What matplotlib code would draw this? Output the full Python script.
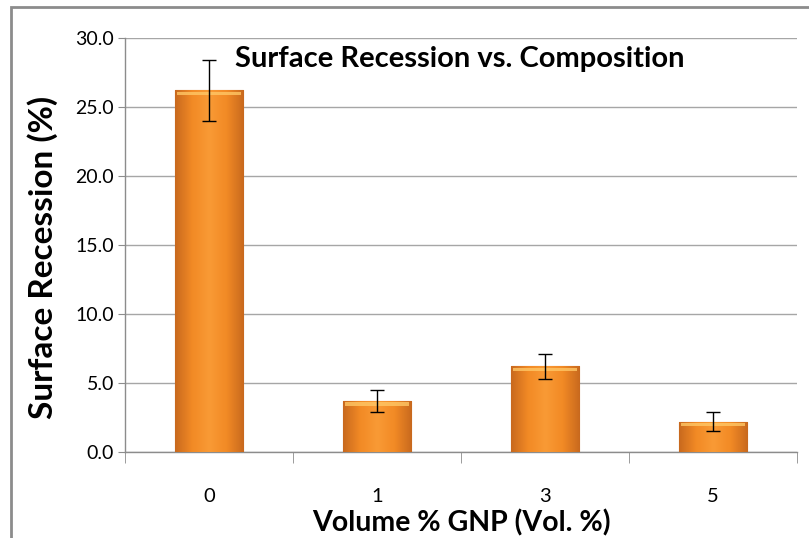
import numpy as np
import matplotlib
matplotlib.use("Agg")
import matplotlib.pyplot as plt
from matplotlib.patches import Rectangle
from matplotlib.colors import LinearSegmentedColormap

categories = ["0", "1", "3", "5"]
recession = [26.2, 3.7, 6.2, 2.2]
errors = [2.2, 0.8, 0.9, 0.7]
yticks = [0, 5, 10, 15, 20, 25, 30]

font = "Lato"
fig = plt.figure(figsize=(8.09, 5.38), dpi=100)
ax = fig.add_axes([125/809, 1-452/538, (797-125)/809, (452-38)/538])

x = np.arange(len(categories))
bars = ax.bar(x, recession, width=0.41, color="#F5922C", edgecolor="#B9631C",
              linewidth=0.8, zorder=3)

cmap = LinearSegmentedColormap.from_list("bev", ["#C8691E", "#F28A25", "#F99A35", "#F28A25", "#C8691E"])
grad = np.linspace(0, 1, 256).reshape(1, -1)
for b in bars:
    x0, w, h = b.get_x(), b.get_width(), b.get_height()
    im = ax.imshow(grad, aspect="auto", cmap=cmap, extent=[x0, x0 + w, 0, h], zorder=3.5)
    im.set_clip_path(b)
    ax.add_patch(Rectangle((x0 + w*0.04, h - 0.35), w*0.92, 0.25, color="#FFC766",
                           alpha=0.8, zorder=3.6, linewidth=0))

ax.errorbar(x, recession, yerr=errors, fmt="none", ecolor="black", elinewidth=1,
            capsize=5, capthick=1, zorder=4)

ax.set_xlim(-0.5, len(categories) - 0.5)
ax.set_ylim(0, 30)
ax.set_yticks(yticks)
ax.set_yticklabels([f"{v:.1f}" for v in yticks], fontsize=14, family=font)
ax.set_xticks(x)
ax.set_xticklabels(categories, fontsize=14.5, family=font)
ax.set_xticks(np.arange(-0.5, len(categories)), minor=True)
ax.tick_params(axis="x", which="major", length=0, pad=26)
ax.tick_params(axis="x", which="minor", length=8, color="#8C8C8C", direction="out")
ax.tick_params(axis="y", length=5, color="#8C8C8C", direction="out", pad=3)
ax.yaxis.grid(True, color="#A6A6A6", linewidth=1, zorder=0)
ax.set_axisbelow(True)
for s in ["top", "right"]:
    ax.spines[s].set_visible(False)
for s in ["left", "bottom"]:
    ax.spines[s].set_color("#8C8C8C")
    ax.spines[s].set_linewidth(1)

ax.set_xlabel("Volume % GNP (Vol. %)", fontsize=20.5, fontweight="bold", family=font, labelpad=3)
ax.set_ylabel("Surface Recession (%)", fontsize=24, fontweight="bold", family=font)
ax.yaxis.set_label_coords(-0.100, 0.47)
ax.text(0.163, 0.95, "Surface Recession vs. Composition", transform=ax.transAxes,
        fontsize=21, fontweight="bold", family=font, va="center", ha="left")

fig.patches.append(Rectangle((11/809, -0.1), 1.2, 1.1 - 7/538, transform=fig.transFigure,
                             fill=False, edgecolor="#8C8C8C", linewidth=2))

fig.savefig("out.png", dpi=100)
